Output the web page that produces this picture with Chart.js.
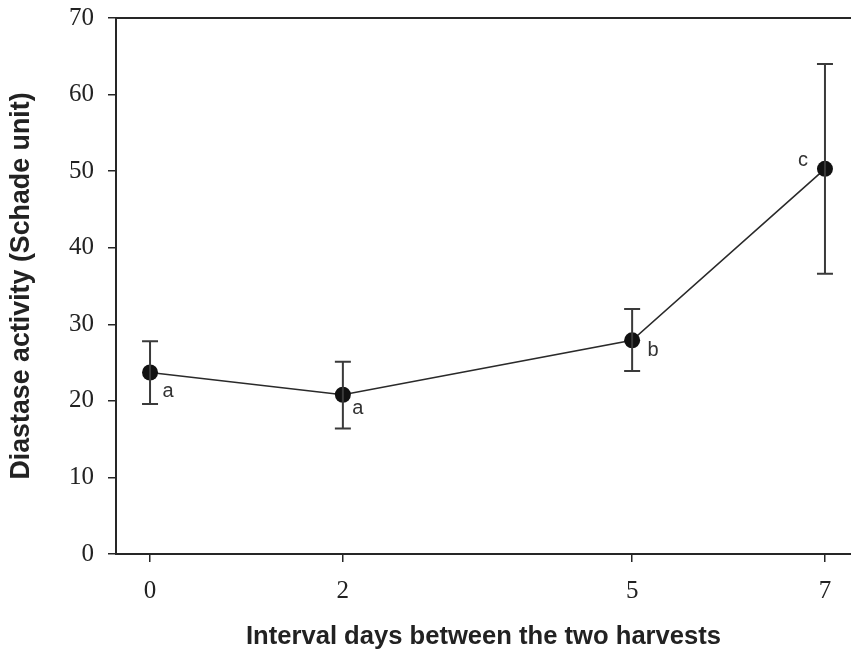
<!DOCTYPE html>
<html>
<head>
<meta charset="utf-8">
<script src="https://cdn.jsdelivr.net/npm/chart.js@4.4.0/dist/chart.umd.min.js"></script>
<style>
  html, body { margin: 0; padding: 0; background: #fff; }
  #wrap { width: 851px; height: 652px; position: relative; }
</style>
</head>
<body>
<div id="wrap"><canvas id="c" width="851" height="652"></canvas></div>
<script>
// ---- data ----
const intervalDays = [0, 2, 5, 7];
const diastaseMean = [23.7, 20.8, 27.9, 50.3];
const errUpper = [27.8, 25.1, 32.0, 64.0];
const errLower = [19.6, 16.4, 23.9, 36.6];
const groupLetters = ['a', 'a', 'b', 'c'];
const xTickValues = [0, 2, 5, 7];
const yTickValues = [0, 10, 20, 30, 40, 50, 60, 70];

// label placement (pixel offsets from point centre)
const letterOffsets = [[18, 19], [15, 14], [21, 10], [-22, -8]];

const INK = '#262626';

const errorBarPlugin = {
  id: 'errorBars',
  afterDatasetsDraw(chart) {
    const ctx = chart.ctx;
    const xs = chart.scales.x, ys = chart.scales.y;
    ctx.save();
    ctx.strokeStyle = '#3a3a3a';
    ctx.lineWidth = 2;
    for (let i = 0; i < intervalDays.length; i++) {
      const px = xs.getPixelForValue(intervalDays[i]);
      const pt = ys.getPixelForValue(errUpper[i]);
      const pb = ys.getPixelForValue(errLower[i]);
      ctx.beginPath();
      ctx.moveTo(px, pt); ctx.lineTo(px, pb);
      ctx.moveTo(px - 8, pt); ctx.lineTo(px + 8, pt);
      ctx.moveTo(px - 8, pb); ctx.lineTo(px + 8, pb);
      ctx.stroke();
    }
    ctx.fillStyle = '#333';
    ctx.font = '20px "Liberation Sans", Arial, sans-serif';
    ctx.textAlign = 'center';
    ctx.textBaseline = 'middle';
    for (let i = 0; i < intervalDays.length; i++) {
      const px = xs.getPixelForValue(intervalDays[i]);
      const py = ys.getPixelForValue(diastaseMean[i]);
      ctx.fillText(groupLetters[i], px + letterOffsets[i][0], py + letterOffsets[i][1]);
    }
    ctx.restore();
  },
  beforeDatasetsDraw(chart) {
    const ctx = chart.ctx, a = chart.chartArea;
    ctx.save();
    ctx.strokeStyle = INK;
    ctx.lineWidth = 2;
    ctx.beginPath();
    ctx.moveTo(a.left - 1, a.top);
    ctx.lineTo(851, a.top);
    ctx.stroke();
    ctx.restore();
  }
};

new Chart(document.getElementById('c'), {
  type: 'scatter',
  data: {
    datasets: [{
      data: intervalDays.map((d, i) => ({ x: d, y: diastaseMean[i] })),
      showLine: true,
      borderColor: '#2a2a2a',
      borderWidth: 1.6,
      pointRadius: 8,
      pointHoverRadius: 8,
      pointBackgroundColor: '#111',
      pointBorderColor: '#111',
      pointBorderWidth: 0,
      clip: false,
      order: 0
    }]
  },
  options: {
    responsive: false,
    animation: false,
    events: [],
    layout: { autoPadding: false, padding: { top: 18, right: 0, left: 0, bottom: 0 } },
    plugins: { legend: { display: false }, tooltip: { enabled: false } },
    scales: {
      x: {
        type: 'linear',
        min: -0.353,
        max: 7.27,
        afterBuildTicks(scale) { scale.ticks = xTickValues.map(v => ({ value: v })); },
        afterFit(scale) { scale.height = 98; scale.paddingLeft = 0; scale.paddingRight = 0; },
        grid: { display: true, drawOnChartArea: false, drawTicks: true, tickLength: 8, color: INK, lineWidth: 1.5 },
        border: { display: true, color: INK, width: 2 },
        ticks: {
          color: '#222',
          padding: 14,
          font: { family: '"Liberation Serif", "Times New Roman", serif', size: 25 },
          maxRotation: 0
        },
        title: {
          display: true,
          text: 'Interval days between the two harvests',
          color: '#222',
          font: { family: '"Liberation Sans", Arial, sans-serif', size: 25.6, weight: 'bold' },
          padding: { top: 0, bottom: 0 }
        }
      },
      y: {
        min: 0,
        max: 70,
        afterBuildTicks(scale) { scale.ticks = yTickValues.map(v => ({ value: v })); },
        afterFit(scale) { scale.width = 116; scale.paddingTop = 0; scale.paddingBottom = 0; },
        grid: { display: true, drawOnChartArea: false, drawTicks: true, tickLength: 8, color: INK, lineWidth: 1.5 },
        border: { display: true, color: INK, width: 2 },
        ticks: {
          color: '#222',
          padding: 14,
          font: { family: '"Liberation Serif", "Times New Roman", serif', size: 25 }
        },
        title: {
          display: true,
          text: 'Diastase activity (Schade unit)',
          color: '#222',
          font: { family: '"Liberation Sans", Arial, sans-serif', size: 26.8, weight: 'bold' },
          padding: { top: 6, bottom: 0 }
        }
      }
    }
  },
  plugins: [errorBarPlugin]
});
</script>
</body>
</html>
